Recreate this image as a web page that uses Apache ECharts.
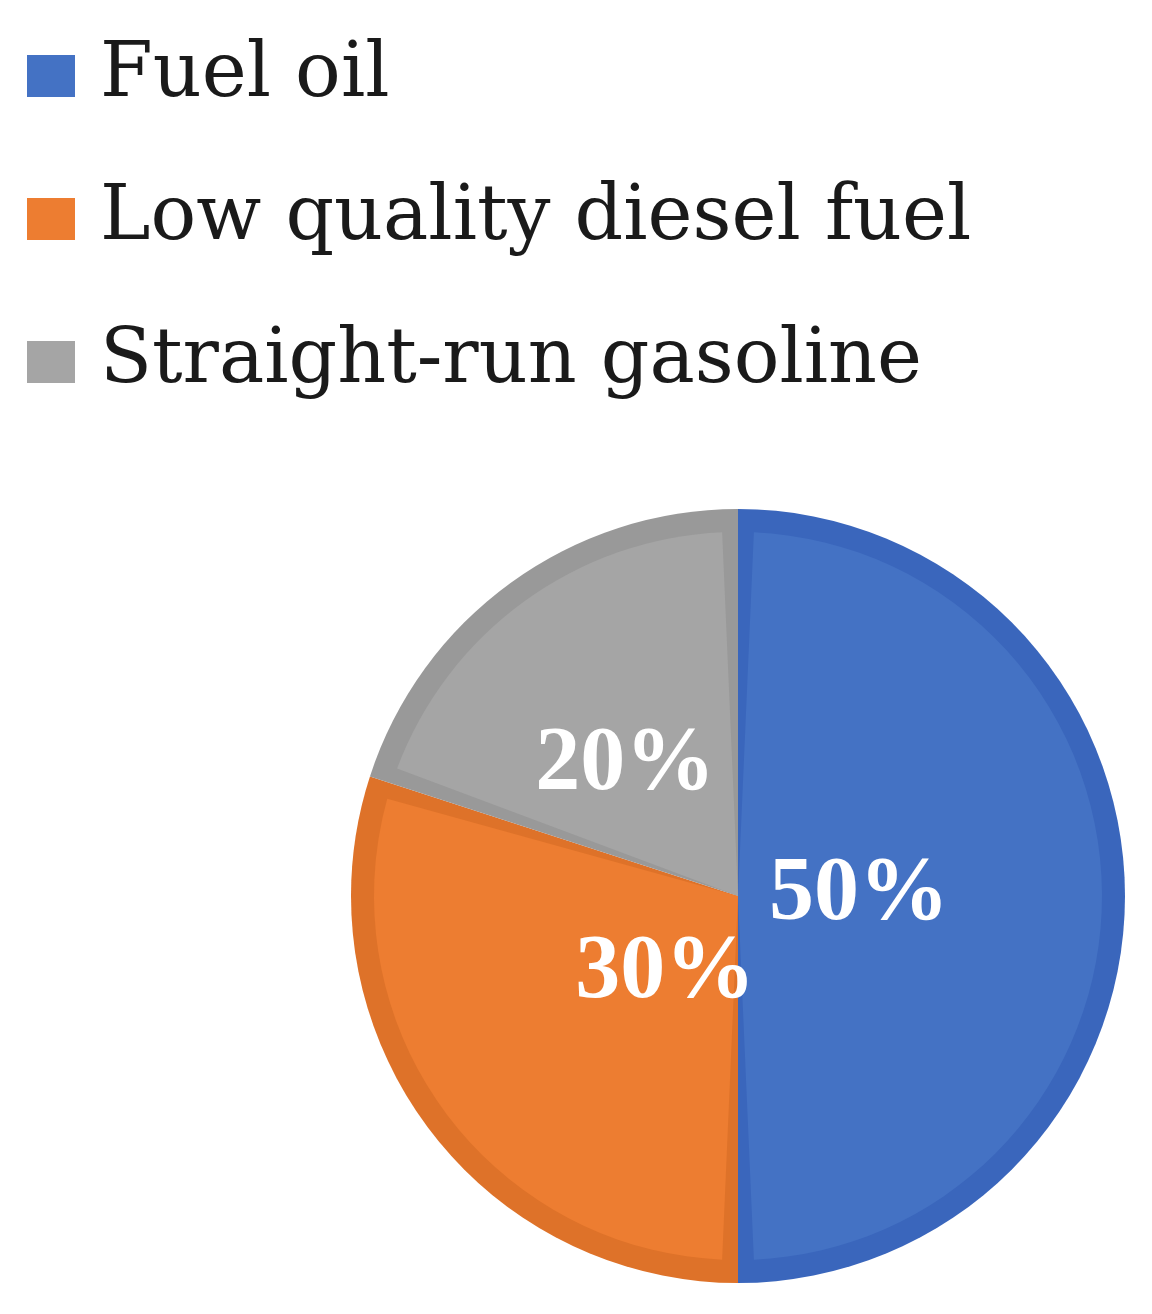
<!DOCTYPE html>
<html><head><meta charset="utf-8">
<script src="https://cdn.jsdelivr.net/npm/echarts@6/dist/echarts.min.js"></script>
<style>html,body{margin:0;padding:0;background:#fff}#c{width:1152px;height:1314px}</style>
</head><body><div id="c"></div>
<script>
const categories = ['Fuel oil', 'Low quality diesel fuel', 'Straight-run gasoline'];
const values = [50, 30, 20];
const fillColors = ['#4472C4', '#ED7D31', '#A5A5A5'];
const edgeColors = ['#3A66BC', '#DE7229', '#999999'];
const labelShift = [[-64, 0], [77, -31], [-4, 19]];

const chart = echarts.init(document.getElementById('c'));
const outerData = categories.map((n, i) => ({name: n, value: values[i], itemStyle: {color: edgeColors[i]}}));
const innerData = categories.map((n, i) => ({name: n, value: values[i], itemStyle: {color: fillColors[i]}}));
chart.setOption({
  animation: false,
  legend: {
    orient: 'vertical', left: 27, top: 36, padding: 0,
    icon: 'rect', itemWidth: 48, itemHeight: 42, itemGap: 63,
    data: categories.map((n, i) => ({name: n, itemStyle: {color: fillColors[i]}})),
    textStyle: {fontFamily: 'DejaVu Serif', fontSize: 76, color: '#1a1a1a', lineHeight: 80, padding: [0, 0, 0, 20]},
    itemStyle: {borderWidth: 0}
  },
  series: [
    {
      type: 'pie', center: [738, 896], radius: [0, 387], startAngle: 90, clockwise: true,
      silent: true, label: {show: false}, labelLine: {show: false},
      data: outerData
    },
    {
      type: 'pie', center: [738, 896], radius: [0, 364], startAngle: 90, clockwise: true,
      padAngle: 5,
      silent: true, labelLine: {show: false},
      label: {show: true, position: 'inside', formatter: '{c}%', color: '#fff',
        fontFamily: 'Liberation Serif', fontWeight: 'bold', fontSize: 90},
      labelLayout: p => ({dx: labelShift[p.dataIndex][0], dy: labelShift[p.dataIndex][1]}),
      data: innerData
    }
  ]
});
</script></body></html>
